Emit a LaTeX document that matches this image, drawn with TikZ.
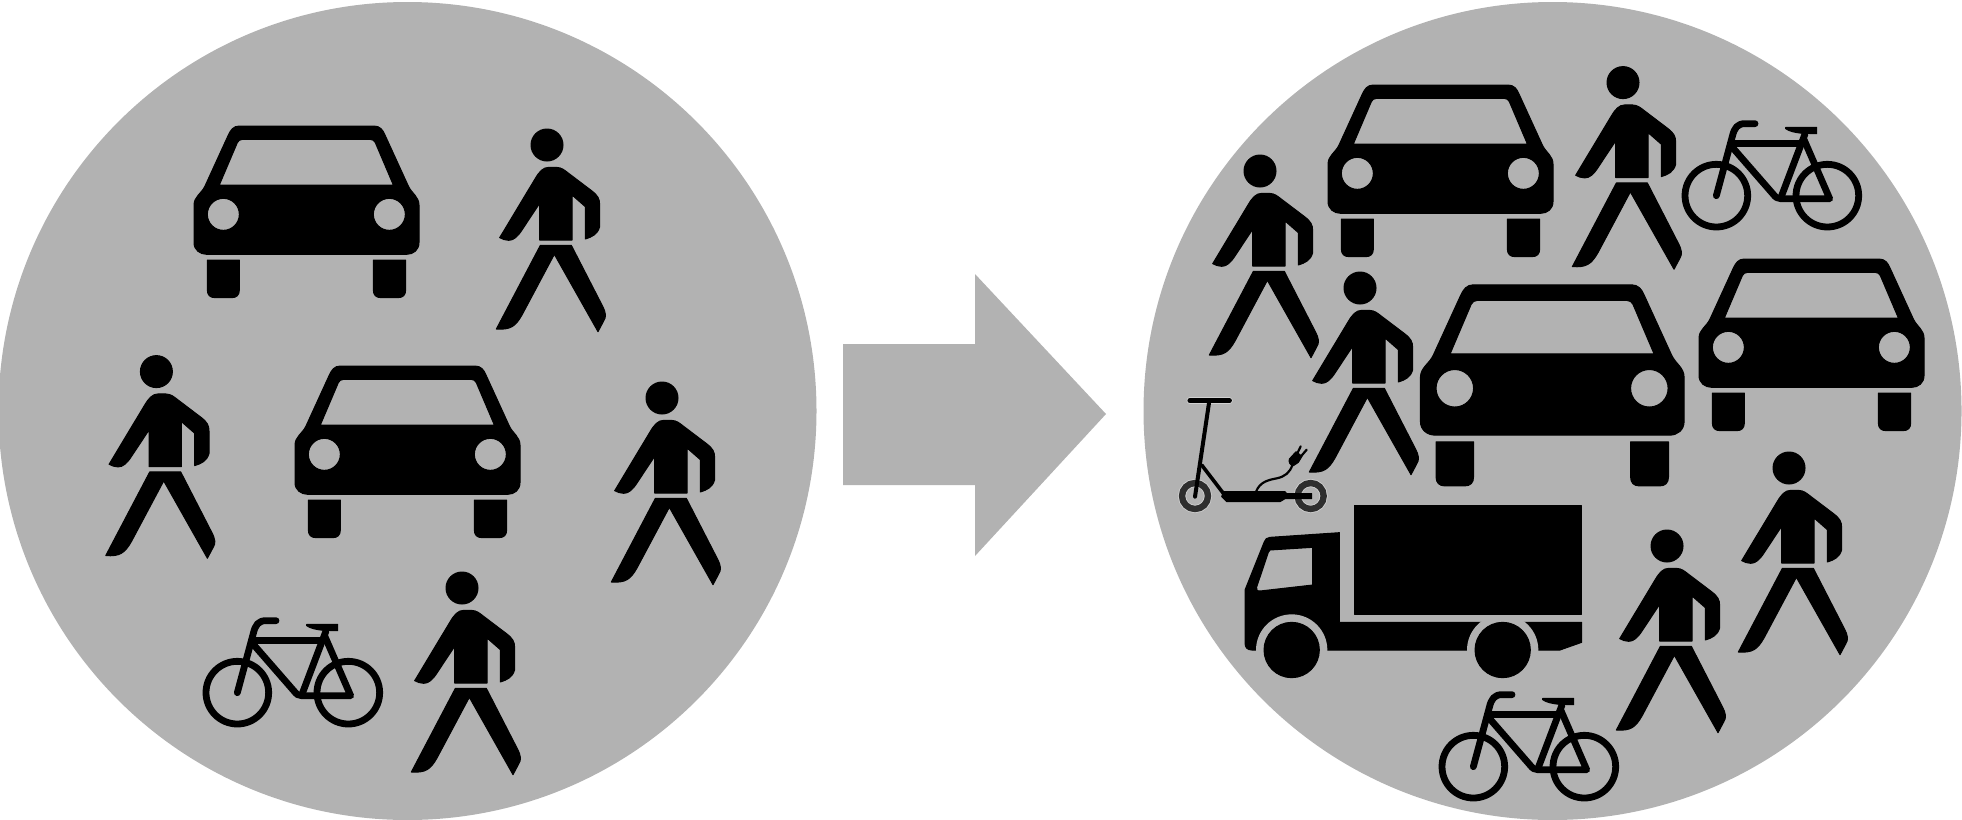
\documentclass[tikz,border=0pt]{standalone}
\definecolor{disc}{HTML}{B2B2B2}
\tikzset{
  discfill/.style={fill=disc,draw=none},
  icon/.style={fill=black,draw=black,line width=.5pt,line join=round},
  wire/.style={draw=black,line cap=round,line join=round,fill=none},
  pics/carico/.style={code={
    \begin{scope}[scale=1/3]
      \path[icon,even odd rule]
        (178,48) -- (582,48) .. controls (600,48) and (609,60) .. (615,75)
        -- (685,228) .. controls (695,250) and (717,260) .. (717,285)
        -- (717,398) .. controls (717,420) and (700,433) .. (680,433)
        -- (80,433) .. controls (60,433) and (42,420) .. (42,398)
        -- (42,285) .. controls (42,260) and (65,250) .. (75,228)
        -- (145,75) .. controls (152,60) and (160,48) .. (178,48) -- cycle
        (188,88) -- (570,88) .. controls (578,88) and (583,92) .. (586,98)
        -- (640,225) -- (118,225) -- (172,98) .. controls (175,92) and (180,88) .. (188,88) -- cycle
        (130,313) circle[radius=48] (628,313) circle[radius=48];
      \path[icon] (82,450) -- (178,450) -- (178,540) .. controls (178,555) and (170,563) .. (155,563)
        -- (105,563) .. controls (90,563) and (82,555) .. (82,540) -- cycle;
      \path[icon] (580,450) -- (677,450) -- (677,540) .. controls (677,555) and (669,563) .. (654,563)
        -- (603,563) .. controls (588,563) and (580,555) .. (580,540) -- cycle;
    \end{scope}}},
  pics/walker/.style={code={
    \begin{scope}[scale=1/3,shift={(-200,-90)}]
      \path[icon] (200,90) circle[radius=48];
      \path[icon] (178,375) -- (178,265) -- (125,345) .. controls (112,365) and (100,376) .. (85,376)
        .. controls (75,376) and (65,372) .. (58,368)
        -- (165,190) .. controls (177,170) and (188,157) .. (205,157)
        -- (228,157) .. controls (245,158) and (252,165) .. (265,175)
        -- (335,228) .. controls (352,242) and (358,250) .. (358,270)
        -- (358,335) .. controls (352,358) and (335,366) .. (315,372)
        -- (315,275) -- (275,240) -- (275,375) -- cycle;
      \path[icon] (180,391) -- (273,391) -- (365,570) .. controls (378,595) and (378,605) .. (370,618)
        -- (353,650) -- (222,418) -- (125,600) .. controls (105,635) and (90,645) .. (48,642) -- cycle;
    \end{scope}}},
  pics/cycle/.style={code={
    \begin{scope}[scale=1/3]
      \draw[wire,line width=3.4pt] (142,263) circle[radius=94] (475,263) circle[radius=94];
      \draw[wire,line width=3.4pt] (142,263) -- (190,85) .. controls (196,60) and (205,47) .. (228,47) -- (258,47);
      \draw[wire,line width=3.4pt] (195,107) -- (400,107);
      \draw[wire,line width=3.4pt] (190,118) -- (312,258) .. controls (320,268) and (325,272) .. (335,272) -- (482,272) -- (405,95);
      \draw[wire,line width=3.4pt] (336,268) -- (408,78);
      \path[icon] (350,58) -- (443,58) -- (443,77) -- (400,76) .. controls (380,74) and (360,70) .. (350,62) -- cycle;
    \end{scope}}},
  pics/scooterico/.style={code={
    \begin{scope}[scale=1/3]
      \draw[draw=white!40!disc,line width=3.4pt,line cap=round] (60,47) -- (178,47);
      \foreach \wx in {75,422} \draw[draw=white!40!disc,line width=4pt] (\wx,333) circle[radius=39];
      \foreach \wx in {75,422} \draw[draw=black!82,line width=3.2pt] (\wx,333) circle[radius=39];
      \draw[wire,line width=2.6pt] (60,47) -- (178,47);
      \draw[wire,line width=2pt] (118,47) -- (75,335);
      \draw[wire,line width=1.8pt] (95,240) -- (160,325);
      \path[icon] (160,320) -- (345,320) -- (350,326) -- (425,326) -- (425,341) -- (345,341) -- (330,350)
        -- (170,350) -- (155,335) -- cycle;
      \draw[wire,line width=1.1pt] (258,320) .. controls (270,290) and (295,285) .. (320,280)
        .. controls (345,275) and (360,262) .. (367,240);
      \path[icon] (358,222) -- (378,200) -- (396,214) -- (385,232) -- (370,242) .. controls (360,240) and (355,232) .. (358,222) -- cycle;
      \draw[wire,line width=1.1pt] (382,205) -- (392,184) (392,215) -- (410,194);
    \end{scope}}},
  pics/lorry/.style={code={
    \begin{scope}[scale=1/3]
      \path[icon,even odd rule] (30,285) -- (88,140) .. controls (91,132) and (95,128) .. (105,127)
        -- (313,113) -- (313,382) -- (1040,382) -- (1040,442) -- (975,465) -- (600,465)
        -- (50,465) .. controls (38,465) and (30,458) .. (30,445) -- cycle
        (105,165) -- (233,157) -- (233,270) -- (75,288) .. controls (66,288) and (62,284) .. (65,276) -- (100,172)
        .. controls (101,168) and (102,166) .. (105,165) -- cycle;
      \path[discfill] (170,465) circle[radius=107] (803,465) circle[radius=107];
      \path[icon] (358,32) rectangle (1040,357);
      \path[icon] (170,465) circle[radius=83] (803,465) circle[radius=83];
    \end{scope}}}
}
\begin{document}
\begin{tikzpicture}[x=0.5pt,y=-0.5pt]
\useasboundingbox (0,0) rectangle (1962,819);
\begin{scope}
\clip (0,0) rectangle (1962,819);
\path[discfill] (407.5,411) circle[radius=409];
\path[discfill] (1552.5,411) circle[radius=409];
\end{scope}
\path[discfill] (843,344) -- (975,344) -- (975,274) -- (1106,414) -- (975,556) -- (975,485) -- (843,485) -- cycle;
% left disc
\pic at (180,110) {carico};
\pic at (281,350) {carico};
\pic at (547,145) {walker};
\pic at (156.4,371.6) {walker};
\pic at (662,398) {walker};
\pic at (462,588) {walker};
\pic at (190,605) {cycle};
% right disc
\pic at (1314,69) {carico};
\pic at (1685,243) {carico};
\pic[scale=1.172] at (1404,266) {carico};
\pic at (1260,171) {walker};
\pic at (1623,82.6) {walker};
\pic at (1360,288) {walker};
\pic at (1789,468) {walker};
\pic at (1667,546) {walker};
\pic at (1669,108) {cycle};
\pic at (1426,679) {cycle};
\pic at (1235,495) {lorry};
\pic at (1170,385) {scooterico};
\end{tikzpicture}
\end{document}
